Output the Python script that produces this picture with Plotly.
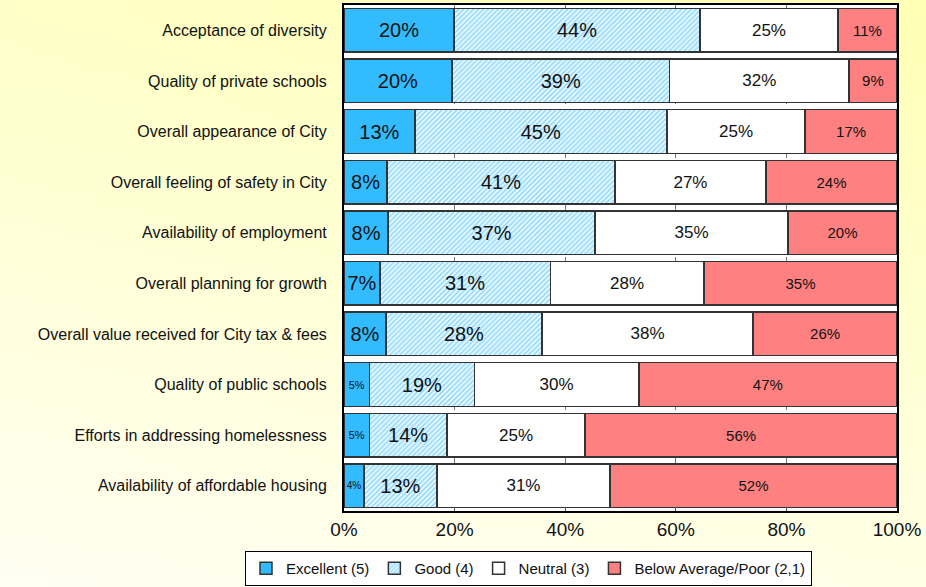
import base64
import struct
import zlib

import plotly.graph_objects as go

categories = [
    "Acceptance of diversity",
    "Quality of private schools",
    "Overall appearance of City",
    "Overall feeling of safety in City",
    "Availability of employment",
    "Overall planning for growth",
    "Overall value received for City tax & fees",
    "Quality of public schools",
    "Efforts in addressing homelessness",
    "Availability of affordable housing",
]

# bar widths (share of responses, %)
excellent = [19.9, 19.5, 12.8, 7.8, 8.0, 6.5, 7.6, 4.6, 4.6, 3.6]
good = [44.5, 39.4, 45.6, 41.2, 37.4, 30.8, 28.2, 19.0, 14.0, 13.2]
neutral = [24.9, 32.4, 25.0, 27.3, 34.9, 27.8, 38.2, 29.7, 25.0, 31.3]
below = [10.7, 8.7, 16.6, 23.7, 19.7, 34.9, 26.0, 46.7, 56.4, 51.9]

# labels as printed in the bars
excellent_lbl = [20, 20, 13, 8, 8, 7, 8, 5, 5, 4]
good_lbl = [44, 39, 45, 41, 37, 31, 28, 19, 14, 13]
neutral_lbl = [25, 32, 25, 27, 35, 28, 38, 30, 25, 31]
below_lbl = [11, 9, 17, 24, 20, 35, 26, 47, 56, 52]

tick_vals = [0, 20, 40, 60, 80, 100]
tick_text = ["0%", "20%", "40%", "60%", "80%", "100%"]

FONT = "Arial, Liberation Sans, sans-serif"


def gradient_png(w=32, h=32):
    # pale yellow backdrop: deeper at the top, almost white bottom-left
    tl, tr, bl, br = 200, 182, 242, 230
    raw = b""
    for j in range(h):
        v = j / (h - 1)
        row = b"\x00"
        for i in range(w):
            u = i / (w - 1)
            top = tl + (tr - tl) * u
            bot = bl + (br - bl) * u
            b = int(round(top + (bot - top) * v))
            row += bytes([255, 255, b])
        raw += row

    def chunk(tag, data):
        return (struct.pack(">I", len(data)) + tag + data
                + struct.pack(">I", zlib.crc32(tag + data) & 0xffffffff))

    png = (b"\x89PNG\r\n\x1a\n"
           + chunk(b"IHDR", struct.pack(">IIBBBBB", w, h, 8, 2, 0, 0, 0))
           + chunk(b"IDAT", zlib.compress(raw))
           + chunk(b"IEND", b""))
    return "data:image/png;base64," + base64.b64encode(png).decode()


def pct(vals):
    return [f"{v}%" for v in vals]


series = [
    ("Excellent (5)", excellent, excellent_lbl,
     dict(color="#33BBFF"), [20, 20, 20, 20, 20, 20, 20, 11, 11, 10]),
    ("Good (4)", good, good_lbl,
     dict(color="white", pattern=dict(shape="/", fgcolor="#33BBFF",
                                      bgcolor="white", size=3.5, solidity=0.6)),
     20),
    ("Neutral (3)", neutral, neutral_lbl, dict(color="white"), 17),
    ("Below Average/Poor (2,1)", below, below_lbl, dict(color="#FF8080"), 15),
]

fig = go.Figure()
for name, vals, lbls, mk, tsize in series:
    fig.add_trace(go.Bar(
        y=categories,
        x=vals,
        orientation="h",
        name=name,
        text=pct(lbls),
        textposition="inside",
        insidetextanchor="middle",
        textangle=0,
        constraintext="none",
        textfont=dict(family=FONT, size=tsize, color="#111111"),
        marker=dict(**mk, line=dict(color="#333333", width=1.5)),
        hoverinfo="skip",
    ))

fig.update_layout(
    barmode="stack",
    bargap=0.14,
    width=926,
    height=587,
    margin=dict(l=344, r=29, t=5, b=76, autoexpand=False),
    paper_bgcolor="#FFFFE0",
    plot_bgcolor="white",
    font=dict(family=FONT, color="#111111"),
    images=[dict(
        source=gradient_png(),
        xref="paper", yref="paper",
        x=-344 / 553, y=1 + 5 / 506,
        sizex=926 / 553, sizey=587 / 506,
        xanchor="left", yanchor="top",
        sizing="stretch",
        layer="below",
    )],
    shapes=[dict(
        type="rect", xref="paper", yref="paper",
        x0=0, x1=1, y0=0, y1=1,
        fillcolor="white", line=dict(width=0), layer="below",
    )],
    legend=dict(
        orientation="h",
        traceorder="normal",
        x=(245 - 344) / 553, xanchor="left",
        y=(511 - 586) / 506, yanchor="bottom",
        bgcolor="white",
        bordercolor="black",
        borderwidth=1,
        font=dict(size=15, family=FONT, color="#111111"),
        itemwidth=30,
        tracegroupgap=0,
        itemclick=False,
    ),
    xaxis=dict(
        range=[0, 100],
        tickvals=tick_vals,
        ticktext=tick_text,
        tickfont=dict(size=19),
        showgrid=True,
        gridcolor="#777777",
        griddash="dash",
        gridwidth=1,
        ticks="inside",
        ticklen=4,
        tickcolor="#555555",
        showline=True,
        mirror=True,
        linecolor="black",
        linewidth=2,
        zeroline=False,
        automargin=False,
        ticklabelstandoff=0,
    ),
    yaxis=dict(
        autorange="reversed",
        tickfont=dict(size=16),
        showline=True,
        mirror=True,
        linecolor="black",
        linewidth=2,
        ticks="",
        automargin=False,
        ticklabelstandoff=12,
    ),
)

# page body has a default 8px margin; drop it so the chart sits at (0, 0)
fig.write_html("out.html", config={"displayModeBar": False},
               post_script="document.body.style.margin = '0';")
